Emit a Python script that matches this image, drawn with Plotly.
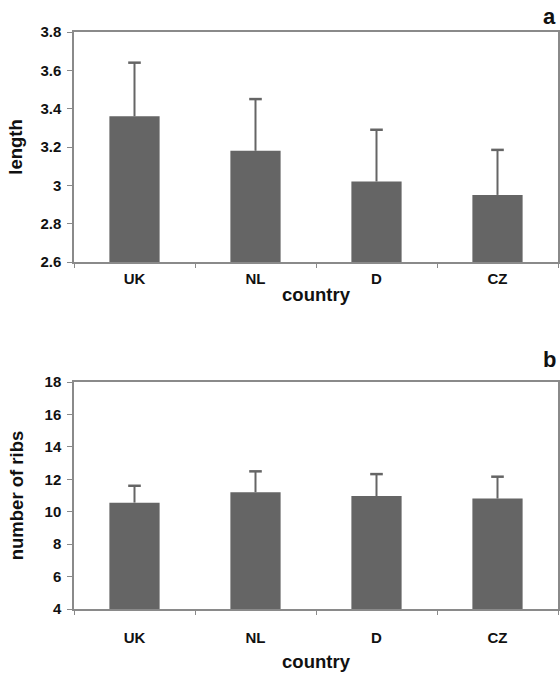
import plotly.graph_objects as go

countries = ["UK", "NL", "D", "CZ"]
length_mean = [3.36, 3.18, 3.02, 2.95]
length_err = [0.28, 0.27, 0.27, 0.235]
ribs_mean = [10.56, 11.2, 10.97, 10.81]
ribs_err = [1.04, 1.29, 1.35, 1.35]

W, H = 560, 678
BAR = "#656565"
AX = "#8a8a8a"
FONT = "Liberation Sans, Arial, sans-serif"


def px_x(a, b):
    return [a / W, b / W]


def px_y(top, bottom):
    return [(H - bottom) / H, (H - top) / H]


def err_traces(means, errs, xa, ya):
    sx, sy = [], []
    for c, m, e in zip(countries, means, errs):
        sx += [c, c, None]
        sy += [m, m + e, None]
    stem = go.Scatter(x=sx, y=sy, mode="lines", line=dict(color=BAR, width=2),
                      xaxis=xa, yaxis=ya, showlegend=False, hoverinfo="skip")
    cap = go.Scatter(x=countries, y=[m + e for m, e in zip(means, errs)], mode="markers",
                     marker=dict(symbol="line-ew", size=9, line=dict(color=BAR, width=2.5)),
                     xaxis=xa, yaxis=ya, showlegend=False, hoverinfo="skip")
    return [stem, cap]


fig = go.Figure()
fig.add_trace(go.Bar(x=countries, y=length_mean, marker=dict(color=BAR, line=dict(width=0)),
                     xaxis="x", yaxis="y", showlegend=False))
for t in err_traces(length_mean, length_err, "x", "y"):
    fig.add_trace(t)
fig.add_trace(go.Bar(x=countries, y=ribs_mean, marker=dict(color=BAR, line=dict(width=0)),
                     xaxis="x2", yaxis="y2", showlegend=False))
for t in err_traces(ribs_mean, ribs_err, "x2", "y2"):
    fig.add_trace(t)

tickfont = dict(family=FONT, size=15, color="#111", weight="bold")
titlefont = dict(family=FONT, size=18.5, color="#111", weight="bold")

common_x = dict(type="category", showline=True, linecolor=AX, linewidth=1.5, mirror=True,
                ticks="outside", tickson="boundaries", ticklen=4, tickcolor=AX,
                tickfont=tickfont, showgrid=False, zeroline=False, automargin=False)
common_y = dict(showline=True, linecolor=AX, linewidth=1.5, mirror=True,
                ticks="outside", ticklen=5, tickcolor=AX, tickfont=tickfont,
                showgrid=False, zeroline=False, automargin=False, ticklabelstandoff=3)

fig.update_layout(
    template="none",
    width=W, height=H, margin=dict(l=0, r=0, t=0, b=0, pad=0, autoexpand=False),
    paper_bgcolor="white", plot_bgcolor="white",
    bargap=0.585,
    xaxis=dict(common_x, domain=px_x(74, 558), anchor="y", ticklabelstandoff=2,
               title=dict(text="country", font=titlefont, standoff=2)),
    yaxis=dict(common_y, domain=px_y(32, 262), anchor="x", range=[2.6, 3.8],
               tickvals=[2.6, 2.8, 3.0, 3.2, 3.4, 3.6, 3.8],
               ticktext=["2.6", "2.8", "3", "3.2", "3.4", "3.6", "3.8"],
               title=dict(text="length", font=titlefont, standoff=13)),
    xaxis2=dict(common_x, domain=px_x(74, 558), anchor="y2", ticklabelstandoff=14,
                title=dict(text="country", font=titlefont, standoff=10)),
    yaxis2=dict(common_y, domain=px_y(382, 609), anchor="x2", range=[4, 18],
                tickvals=[4, 6, 8, 10, 12, 14, 16, 18],
                title=dict(text="number of ribs", font=titlefont, standoff=16)),
    annotations=[
        dict(text="a", x=549 / W, y=(H - 17) / H, xref="paper", yref="paper",
             xanchor="center", yanchor="middle",
             showarrow=False, font=dict(family=FONT, size=22, color="#111", weight="bold")),
        dict(text="b", x=549 / W, y=(H - 359) / H, xref="paper", yref="paper",
             xanchor="center", yanchor="middle",
             showarrow=False, font=dict(family=FONT, size=22, color="#111", weight="bold")),
    ],
)

fig.write_html("out.html", config={"displayModeBar": False},
               post_script="document.body.style.margin='0';document.body.style.overflow='hidden';")
